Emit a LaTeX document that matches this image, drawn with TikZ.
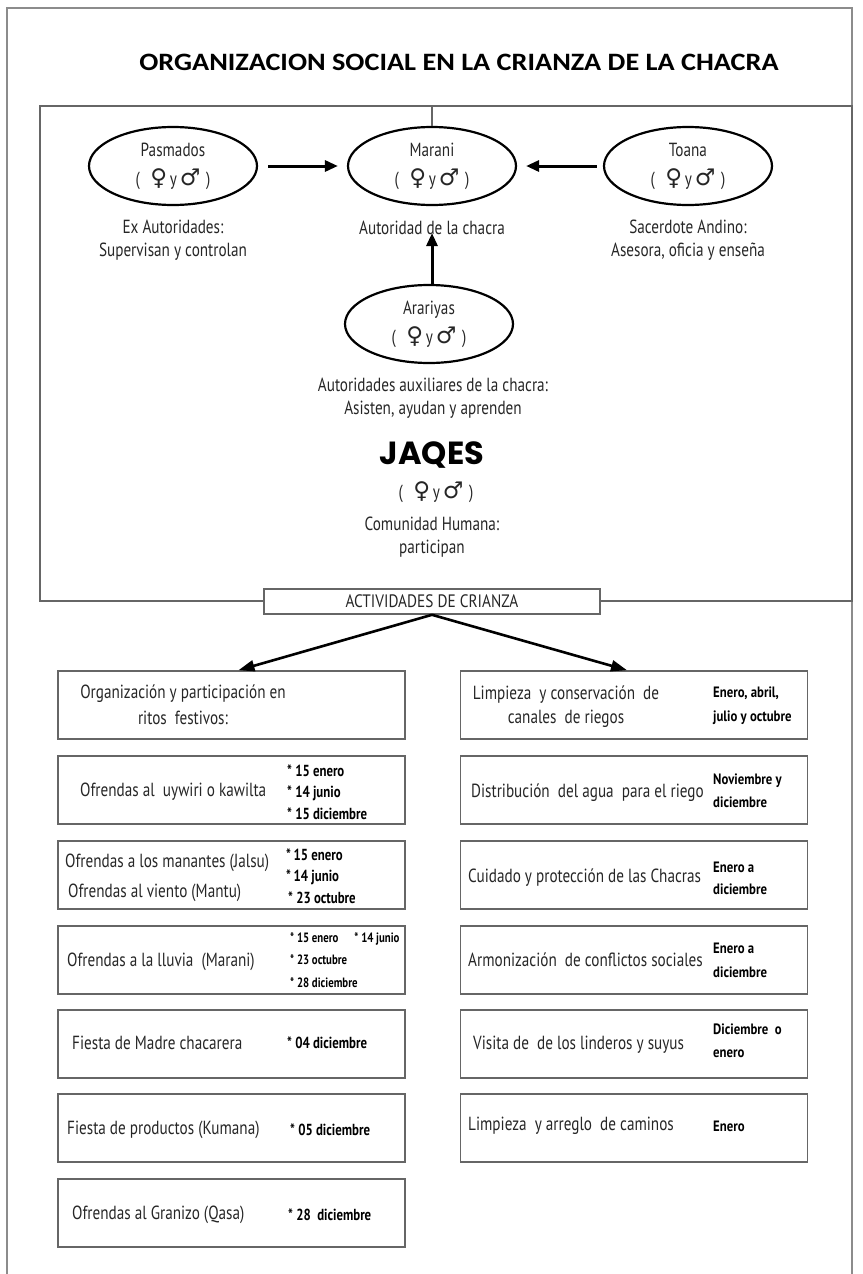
\documentclass[tikz,border=0pt]{standalone}
\usepackage{fontspec}
\usetikzlibrary{shapes.geometric,arrows.meta}
\newfontfamily\bodyf[FakeStretch=0.8]{PT Sans}
\newfontfamily\datef[FakeStretch=0.8]{PT Sans}
\newfontfamily\rdatef[FakeStretch=0.85]{PT Sans}
\newfontfamily\actf[FakeStretch=0.85]{PT Sans}
\newfontfamily\symf{DejaVu Sans}
\newfontfamily\titlef[FakeStretch=1.13]{Carlito}
\newfontfamily\jaqf{Poppins}
\definecolor{framegray}{gray}{0.55}
\definecolor{boxgray}{gray}{0.4}
\definecolor{txtgray}{gray}{0.15}
\newcommand\gsym{(\hspace{0.55em}{\symf\fontsize{23}{23}\selectfont\char"2640}\hspace{0.15em}y\hspace{0.15em}{\symf\fontsize{23}{23}\selectfont\char"2642}\hspace{0.3em})}
\tikzset{
  ell/.style={ellipse, draw, line width=2.2pt, minimum width=168pt, minimum height=78pt, inner sep=0pt, align=center, text=txtgray, font=\bodyf\fontsize{19}{29}\selectfont},
  lbl/.style={align=center, inner sep=0pt, text=txtgray, font=\bodyf\fontsize{19}{23}\selectfont},
  actbox/.style={draw=boxgray, fill=white, line width=1.6pt, minimum width=336pt, minimum height=25pt, inner sep=0pt, text=txtgray, font=\actf\fontsize{18}{18}\selectfont},
  abox/.style={draw=boxgray, line width=1.6pt, minimum width=347pt, minimum height=68pt, inner sep=0pt},
  txt/.style={inner sep=0pt, align=left, text=txtgray, font=\bodyf\fontsize{19}{30}\selectfont},
  dt/.style={inner sep=0pt, align=left, font=\datef\bfseries\fontsize{16}{21.5}\selectfont},
  sdt/.style={inner sep=0pt, align=left, font=\datef\bfseries\fontsize{13.5}{22.5}\selectfont},
  rdt/.style={inner sep=0pt, align=left, font=\rdatef\bfseries\fontsize{15}{24}\selectfont},
  arr/.style={line width=3pt, -{Triangle[length=13pt,width=11pt]}},
  darr/.style={line width=2.6pt, -{Triangle[length=16pt,width=11pt]}}
}
\begin{document}
\begin{tikzpicture}[x=1pt,y=-1pt]
\useasboundingbox (0,0) rectangle (862,1274);
% outer frame
\draw[framegray, line width=2pt] (7,1274) -- (7,8) -- (852,8) -- (852,1274);
% title
\node[inner sep=0pt, font=\titlef\bfseries\fontsize{25}{27}\selectfont] (title) at (459,62) {ORGANIZACION SOCIAL EN LA CRIANZA DE LA CHACRA};
% inner box
\draw[boxgray, line width=1.6pt] (40,106) rectangle (852,601);
\coordinate (topc) at (432,106);
% ellipses
\node[ell] (pas) at (173,166) {Pasmados\\ \gsym};
\node[ell] (mar) at (432,166) {Marani\\ \gsym};
\node[ell] (toa) at (688,166) {Toana\\ \gsym};
\node[lbl] (pasL) at (173,240) {Ex Autoridades:\\Supervisan y controlan};
\node[lbl] (marL) at (432,228) {Autoridad de la chacra};
\node[lbl] (toaL) at (688,240) {Sacerdote Andino:\\Asesora, oficia y enseña};
\node[ell] (ara) at (429,324) {Arariyas\\ \gsym};
\node[lbl] (araL) at (433,398) {Autoridades auxiliares de la chacra:\\Asisten, ayudan y aprenden};
\node[inner sep=0pt, font=\jaqf\bfseries\fontsize{32}{36}\selectfont] (jaq) at (432,455) {JAQES};
\node[inner sep=0pt, text=txtgray, font=\bodyf\fontsize{19}{20}\selectfont] (jaqS) at (436,492) {\gsym};
\node[lbl] (jaqL) at (432,537) {Comunidad Humana:\\participan};
\node[actbox] (act) at (432,601.5) {ACTIVIDADES DE CRIANZA};
% connectors top
\draw[boxgray, line width=1.6pt] (topc) -- (mar.north);
\draw[arr, shorten <=10pt, shorten >=9pt] (pas.east) -- (mar.west);
\draw[arr, shorten <=6pt, shorten >=9pt] (toa.west) -- (mar.east);
\draw[arr, shorten >=-2pt] (ara.north -| mar.south) -- (marL.south -| mar.south);
% left boxes
\node[abox] (L1) at (231.5,705) {};
\node[abox] (L2) at (231.5,790) {};
\node[abox] (L3) at (231.5,875) {};
\node[abox] (L4) at (231.5,960) {};
\node[abox] (L5) at (231.5,1044) {};
\node[abox] (L6) at (231.5,1128) {};
\node[abox] (L7) at (231.5,1213) {};
% right boxes
\node[abox] (R1) at (634,705) {};
\node[abox] (R2) at (634,790) {};
\node[abox] (R3) at (634,875) {};
\node[abox] (R4) at (634,960) {};
\node[abox] (R5) at (634,1044) {};
\node[abox] (R6) at (634,1128) {};
% arrows from activities
\draw[darr] (act.south) -- ([xshift=7pt]L1.north);
\draw[darr] (act.south) -- ([xshift=-7pt]R1.north);
% left texts
\node[txt, align=center, font=\bodyf\fontsize{19}{26}\selectfont] (L1t) at (183,705) {Organización y participación en\\ritos\ \ festivos:};
\node[txt, anchor=west] (L2t) at (80,792) {Ofrendas al\ \ uywiri o kawilta};
\node[dt, anchor=west] (L2d) at (287,792) {* 15 enero\\* 14 junio\\* 15 diciembre};
\node[txt, anchor=west] (L3t) at (65,878) {Ofrendas a los manantes\ (Jalsu)\\\hspace{3pt}Ofrendas al viento (Mantu)};
\node[dt, anchor=west] (L3d) at (286,876) {*\,15 enero\\*\,14 junio\\\hspace{2pt}* 23 octubre};
\node[txt, anchor=west] (L4t) at (67,962) {Ofrendas a la lluvia\ \ (Marani)};
\node[sdt, anchor=west] (L4d) at (290,960) {* 15 enero\hspace{16pt}* 14 junio\\* 23 octubre\\* 28 diciembre};
\node[txt, anchor=west] (L5t) at (72,1043) {Fiesta de Madre chacarera};
\node[dt, anchor=west] (L5d) at (287,1043) {* 04 diciembre};
\node[txt, anchor=west] (L6t) at (67,1130) {Fiesta de productos (Kumana)};
\node[dt, anchor=west] (L6d) at (290,1130) {* 05 diciembre};
\node[txt, anchor=west] (L7t) at (72,1215) {Ofrendas al Granizo (Qasa)};
\node[dt, anchor=west] (L7d) at (288,1215) {* 28\ \ diciembre};
% right texts
\node[txt, align=center, font=\bodyf\fontsize{19}{24}\selectfont] (R1t) at (566,707) {Limpieza\ \ y conservación\ \ de\\canales\ \ de riegos};
\node[rdt, anchor=west] (R1d) at (713,706) {Enero, abril,\\julio y octubre};
\node[txt, anchor=west] (R2t) at (471,793) {Distribución\ \ del agua\ \ para el riego};
\node[rdt, anchor=west, font=\rdatef\bfseries\fontsize{15}{23}\selectfont] (R2d) at (713,791) {Noviembre y\\diciembre};
\node[txt, anchor=west] (R3t) at (468,878) {Cuidado y protección de las Chacras};
\node[rdt, anchor=west, font=\rdatef\bfseries\fontsize{15}{22}\selectfont] (R3d) at (713,878) {Enero a\\diciembre};
\node[txt, anchor=west] (R4t) at (468,960) {Armonización\ \ de conflictos sociales};
\node[rdt, anchor=west] (R4d) at (713,960) {Enero a\\diciembre};
\node[txt, anchor=west] (R5t) at (473,1045) {Visita de\ \ de los linderos y suyus};
\node[rdt, anchor=west, font=\rdatef\bfseries\fontsize{15}{23}\selectfont] (R5d) at (713,1041) {Diciembre\ \ o\\enero};
\node[txt, anchor=west] (R6t) at (468,1126) {Limpieza\ \ y arreglo\ \ de caminos};
\node[rdt, anchor=west] (R6d) at (713,1126) {Enero};
\end{tikzpicture}
\end{document}
